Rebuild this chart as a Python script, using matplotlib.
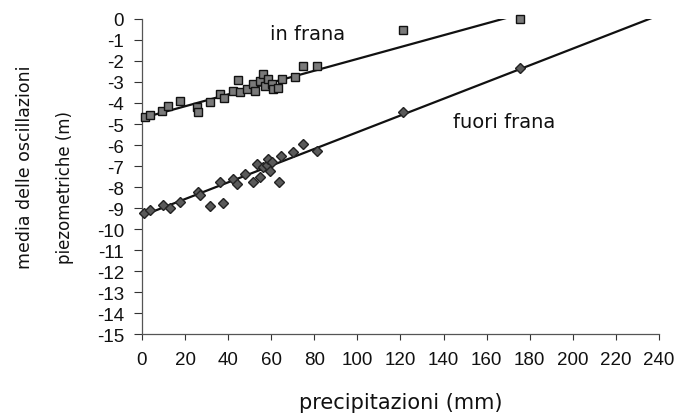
import matplotlib
matplotlib.use("Agg")
import matplotlib.pyplot as plt
import numpy as np

# "in frana" (squares): precipitazioni mm, media oscillazioni m
in_frana_x = [1.4, 3.7, 9.1, 12.2, 17.6, 25.4, 26.1, 31.6, 36.2, 38.2, 42.4, 44.7,
              45.5, 48.6, 51.7, 52.5, 54.8, 56.3, 57.1, 58.6, 60.2, 61.0, 63.3,
              64.9, 71.0, 74.9, 81.1, 121.3, 175.5]
in_frana_y = [-4.65, -4.56, -4.36, -4.16, -3.92, -4.21, -4.44, -3.97, -3.57, -3.78,
              -3.44, -2.90, -3.49, -3.33, -3.10, -3.44, -2.94, -2.62, -3.17, -2.86,
              -3.10, -3.33, -3.30, -2.86, -2.78, -2.22, -2.22, -0.52, 0.0]

# "fuori frana" (diamonds)
fuori_x = [1.1, 3.7, 9.9, 13.0, 17.6, 26.1, 26.9, 31.6, 36.2, 37.7, 42.4, 44.0,
           47.8, 51.7, 53.2, 54.8, 56.3, 57.9, 58.6, 59.4, 60.2, 63.6, 64.5,
           70.2, 74.9, 81.1, 121.3, 175.5]
fuori_y = [-9.24, -9.08, -8.84, -9.02, -8.73, -8.25, -8.37, -8.89, -7.78, -8.78,
           -7.62, -7.86, -7.38, -7.75, -6.90, -7.54, -7.06, -6.95, -6.67, -7.22,
           -6.83, -7.78, -6.51, -6.35, -5.95, -6.27, -4.44, -2.35]

# trend lines: (intercept, slope)
in_frana_fit = (-4.72, 0.0282)
fuori_fit = (-9.37, 0.0398)

x_ticks = list(range(0, 241, 20))
y_ticks = list(range(0, -16, -1))

fig = plt.figure(figsize=(6.78, 4.14), dpi=100)
ax = fig.add_axes([0.2094, 0.1908, 0.7626, 0.7609])

xx = np.array([0, 240])
for (b, m) in (in_frana_fit, fuori_fit):
    ax.plot(xx, b + m * xx, color="#111111", lw=1.6, zorder=2)

ax.plot(in_frana_x, in_frana_y, linestyle="none", marker="s", markersize=5.5,
        markerfacecolor="#7a7a7a", markeredgecolor="#111111", markeredgewidth=1.0,
        zorder=3, clip_on=False)
ax.plot(fuori_x, fuori_y, linestyle="none", marker="D", markersize=4.8,
        markerfacecolor="#5a5a5a", markeredgecolor="#222222", markeredgewidth=1.0,
        zorder=3, clip_on=False)

ax.set_xlim(0, 240)
ax.set_ylim(-15, 0)
ax.set_xticks(x_ticks)
ax.set_yticks(y_ticks)
ax.set_xticklabels([str(v) for v in x_ticks], family="Liberation Sans", fontsize=13.5)
ax.set_yticklabels([str(v) for v in y_ticks], family="Liberation Sans", fontsize=13.5)
ax.tick_params(axis="x", direction="out", length=4, width=0.8, pad=8, colors="#333333",
               labelcolor="#111111")
ax.tick_params(axis="y", direction="out", length=6, width=0.8, pad=7, colors="#333333",
               labelcolor="#111111")

for s in ("top", "right"):
    ax.spines[s].set_visible(False)
for s in ("left", "bottom"):
    ax.spines[s].set_color("#555555")
    ax.spines[s].set_linewidth(0.9)

ax.text(77, -0.7, "in frana", fontsize=14, ha="center", va="center", color="#111111")
ax.text(168, -4.9, "fuori frana", fontsize=14, ha="center", va="center", color="#111111")

fig.text(0.591, 1 - 403 / 414, "precipitazioni (mm)", fontsize=15, ha="center",
         va="center", color="#111111")
fig.text(25 / 678, 1 - 167 / 414, "media delle oscillazioni", fontsize=12.5,
         rotation=90, ha="center", va="center", color="#111111")
fig.text(65 / 678, 1 - 188 / 414, "piezometriche (m)", fontsize=12,
         rotation=90, ha="center", va="center", color="#111111")

fig.savefig("out.png", dpi=100)
